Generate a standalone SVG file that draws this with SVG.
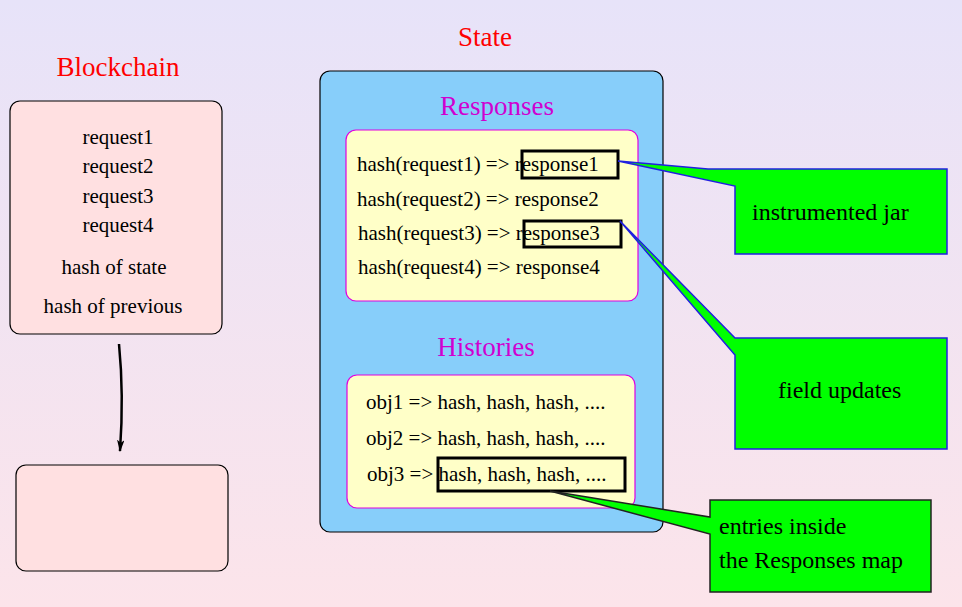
<svg xmlns="http://www.w3.org/2000/svg" width="962" height="607" viewBox="0 0 962 607">
<defs>
<linearGradient id="bg" x1="0" y1="0" x2="0" y2="1">
<stop offset="0" stop-color="#E7E3F9"/>
<stop offset="1" stop-color="#FCE4EA"/>
</linearGradient>
<marker id="ah" viewBox="0 0 10 6" refX="9" refY="3" markerWidth="5" markerHeight="3" orient="auto" markerUnits="strokeWidth">
<path d="M0,0 L10,3 L0,6 L2.5,3 z" fill="#000"/>
</marker>
<style>
text{font-family:"Liberation Serif","Times New Roman",serif;fill:#000;}
.title{font-size:27px;fill:#FF0000;text-anchor:middle;}
.sub{font-size:27px;fill:#D000D0;text-anchor:middle;}
.t{font-size:21px;}
.c{text-anchor:middle;}
.ct{font-size:24px;}
.block{fill:#FFE0E1;stroke:#000;stroke-width:1.2;}
.state{fill:#87CEFA;stroke:#000;stroke-width:1.2;}
.inner{fill:#FFFFC8;stroke:#E000E0;stroke-width:1.2;}
.hl{fill:none;stroke:#000;stroke-width:3;}
.call{fill:#00FF00;stroke:#2020E0;stroke-width:1.5;stroke-linejoin:miter;}
.call2{fill:#00FF00;stroke:#222;stroke-width:1.5;}
</style>
</defs>
<rect width="962" height="607" fill="url(#bg)"/>

<text class="title" x="118" y="76">Blockchain</text>
<text class="title" x="485" y="46">State</text>

<g id="block1">
<rect class="block" x="10" y="101" width="212" height="233" rx="10"/>
<text class="t c" x="118" y="144">request1</text>
<text class="t c" x="118" y="173">request2</text>
<text class="t c" x="118" y="203">request3</text>
<text class="t c" x="118" y="232">request4</text>
<text class="t c" x="114" y="274">hash of state</text>
<text class="t c" x="113" y="313">hash of previous</text>
</g>

<g id="block2">
<rect class="block" x="16" y="465" width="212" height="106" rx="10"/>
</g>

<g id="state">
<rect class="state" x="320" y="71" width="343" height="461" rx="10"/>
<text class="sub" x="497" y="115">Responses</text>
<text class="sub" x="486" y="356">Histories</text>
</g>

<g id="responses">
<rect class="inner" x="346" y="130" width="292" height="171" rx="10"/>
<text class="t" x="357" y="171">hash(request1) =&gt; response1</text>
<text class="t" x="357" y="206">hash(request2) =&gt; response2</text>
<text class="t" x="358" y="240">hash(request3) =&gt; response3</text>
<text class="t" x="358" y="274">hash(request4) =&gt; response4</text>
<rect class="hl" x="522" y="151" width="96" height="27"/>
<rect class="hl" x="524" y="221" width="97" height="26"/>
</g>

<g id="histories">
<rect class="inner" x="347" y="375" width="288" height="133" rx="10"/>
<text class="t" x="366" y="409">obj1 =&gt; hash, hash, hash, ....</text>
<text class="t" x="366" y="445">obj2 =&gt; hash, hash, hash, ....</text>
<text class="t" x="367" y="481">obj3 =&gt; hash, hash, hash, ....</text>
<rect class="hl" x="438" y="458" width="187" height="33"/>
</g>

<g id="callout-jar">
<path class="call" d="M618,161 L708,169 L947,169 L947,254 L735,254 L735,186 Z"/>
<text class="ct" x="752" y="220">instrumented jar</text>
</g>

<g id="callout-field">
<path class="call" d="M620,221 L735,338 L947,338 L947,449 L735,449 L735,355 Z"/>
<text class="ct" x="778" y="398">field updates</text>
</g>

<g id="callout-entries">
<path class="call2" d="M550,491 L710,517 L710,500 L931,500 L931,592 L710,592 L710,534 Z"/>
<text class="ct" x="719" y="534">entries inside</text>
<text class="ct" x="719" y="568">the Responses map</text>
</g>

<g id="connectors">
<path d="M119,344 Q124,395 120,451" fill="none" stroke="#000" stroke-width="2.5" marker-end="url(#ah)"/>
</g>
</svg>
